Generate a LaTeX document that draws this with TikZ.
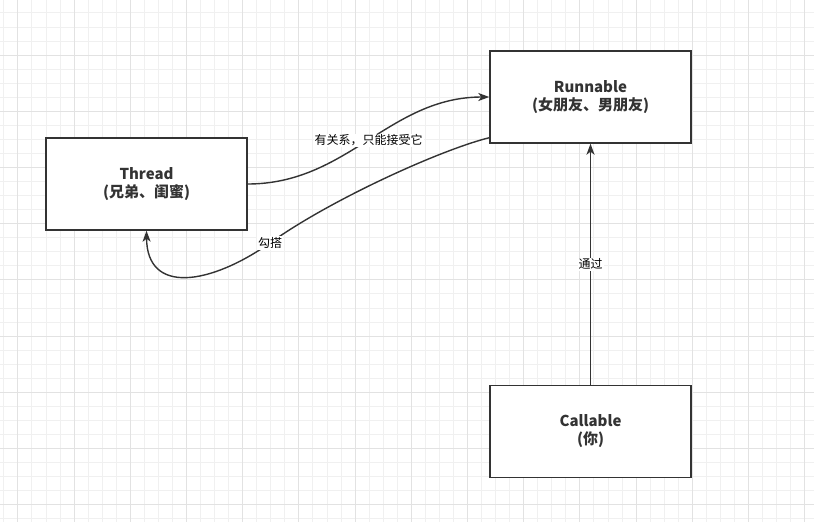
\documentclass[tikz,border=0pt]{standalone}
\usepackage{fontspec}
\setmainfont{Noto Sans CJK SC}
\usetikzlibrary{arrows.meta, positioning, calc}
\definecolor{mydark}{RGB}{51,51,51}
\definecolor{mygridminor}{RGB}{240,240,240}
\definecolor{mygridmajor}{RGB}{226,226,226}
\tikzset{
  classbox/.style={rectangle, draw=mydark, fill=white, line width=1.4pt,
    minimum width=201pt, minimum height=92pt, align=center, text=mydark,
    font=\bfseries\fontsize{15}{18}\selectfont},
  edgelabel/.style={fill=white, inner sep=1pt, text=black,
    font=\fontsize{12}{14}\selectfont},
  arrow/.style={-{Stealth[length=11pt, width=8pt, inset=3pt]},
    line width=1.4pt, color=mydark},
  gridminor/.style={line width=0.8pt, color=mygridminor},
  gridmajor/.style={line width=0.8pt, color=mygridmajor}
}

\begin{document}
\begin{tikzpicture}[x=1pt, y=1pt]
  \useasboundingbox (0,0) rectangle (814,-522);
  \fill[white] (0,0) rectangle (814,-522);
  % Background grid
  \foreach \k in {-5,...,52}{
    \pgfmathsetmacro\gx{74+14.05*\k}
    \draw[gridminor] (\gx,0) -- (\gx,-522);
  }
  \foreach \k in {-3,...,33}{
    \pgfmathsetmacro\gy{-55-14.05*\k}
    \draw[gridminor] (0,\gy) -- (814,\gy);
  }
  \foreach \k in {-1,...,13}{
    \pgfmathsetmacro\gx{74+56.2*\k}
    \draw[gridmajor] (\gx,0) -- (\gx,-522);
  }
  \foreach \k in {0,...,8}{
    \pgfmathsetmacro\gy{-55-56.2*\k}
    \draw[gridmajor] (0,\gy) -- (814,\gy);
  }

  \node[classbox] (thread)   at (146.5,-184) {Thread\\(兄弟、闺蜜)};
  \node[classbox] (runnable) at (590.5,-97)  {Runnable\\(女朋友、男朋友)};
  \node[classbox, below=241pt of runnable] (callable) {Callable\\(你)};

  \draw[arrow] (thread.east) .. controls +(100,0) and +(-100,0)
    .. node[edgelabel]{有关系，只能接受它} (runnable.west);
  % Back from Runnable, round under Thread
  \coordinate (hook) at (270,-243);
  \draw[arrow] ($(runnable.south west)+(0,6)$) .. controls (440,-150) and (330,-200)
    .. (hook) .. controls (210,-285) and (147,-295) .. (thread.south);
  \node[edgelabel] at (hook) {勾搭};
  \draw[arrow] (callable) -- node[edgelabel]{通过} (runnable);
\end{tikzpicture}
\end{document}
